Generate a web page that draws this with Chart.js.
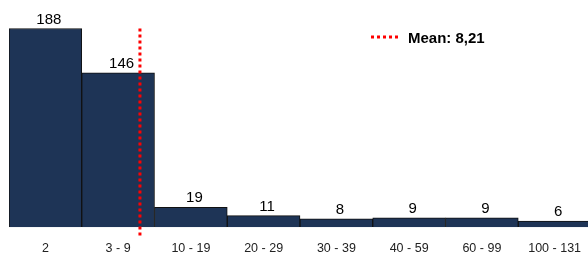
<!DOCTYPE html>
<html>
<head>
<meta charset="utf-8">
<script src="https://cdn.jsdelivr.net/npm/chart.js@4/dist/chart.umd.min.js"></script>
<style>
  html, body { margin: 0; padding: 0; background: #fff; overflow: hidden; }
  #wrap { width: 591px; height: 257px; position: relative; }
</style>
</head>
<body>
<div id="wrap"><canvas id="chart"></canvas></div>
<script>
/* ===== Histogram with mean marker ===== */

const categories = ['2', '3 - 9', '10 - 19', '20 - 29', '30 - 39', '40 - 59', '60 - 99', '100 - 131'];
const counts = [188, 146, 19, 11, 8, 9, 9, 6];
const meanLabel = 'Mean: 8,21';
// where the mean falls on the category axis (index units)
const meanPosition = 1.3;

const barColor = '#1E3456';
const meanColor = '#FF0000';

// Value labels, mean line and legend drawn over the bars
const overlayPlugin = {
  id: 'overlay',
  afterDatasetsDraw(chart) {
    const { ctx, chartArea, scales } = chart;
    const meta = chart.getDatasetMeta(0);

    ctx.save();
    ctx.fillStyle = '#000';
    ctx.font = '15px "Liberation Sans", Arial, sans-serif';
    ctx.textAlign = 'center';
    ctx.textBaseline = 'alphabetic';
    meta.data.forEach((bar, i) => {
      ctx.fillText(String(counts[i]), bar.x + 3.5, bar.y - 5);
    });

    // dotted mean line
    const mx = scales.x.getPixelForValue(meanPosition);
    ctx.strokeStyle = meanColor;
    ctx.lineWidth = 3;
    ctx.setLineDash([3, 3]);
    ctx.beginPath();
    ctx.moveTo(mx, scales.y.getPixelForValue(Math.max(...counts)));
    ctx.lineTo(mx, chartArea.bottom + 11);
    ctx.stroke();

    // legend
    ctx.beginPath();
    ctx.moveTo(371, 37);
    ctx.lineTo(400, 37);
    ctx.stroke();
    ctx.setLineDash([]);
    ctx.fillStyle = '#000';
    ctx.textAlign = 'left';
    ctx.font = 'bold 15px "Liberation Sans", Arial, sans-serif';
    ctx.fillText(meanLabel, 408, 42.7);
    ctx.restore();
  }
};

new Chart(document.getElementById('chart'), {
  type: 'bar',
  data: {
    labels: categories,
    datasets: [{
      data: counts,
      backgroundColor: barColor,
      borderColor: '#111',
      borderWidth: 1,
      categoryPercentage: 1,
      barPercentage: 1
    }]
  },
  options: {
    responsive: true,
    maintainAspectRatio: false,
    animation: false,
    layout: { padding: { left: 9, right: 0, top: 0, bottom: 0 } },
    plugins: {
      legend: { display: false },
      tooltip: { enabled: false }
    },
    scales: {
      x: {
        grid: { display: false, drawTicks: true, tickLength: 13.7 },
        border: { display: false },
        ticks: {
          color: '#222',
          font: { family: '"Liberation Sans", Arial, sans-serif', size: 12.5 },
          padding: 0.5,
          maxRotation: 0,
          autoSkip: false
        }
      },
      y: {
        display: false,
        min: 0,
        max: 215
      }
    }
  },
  plugins: [overlayPlugin]
});
</script>
</body>
</html>
